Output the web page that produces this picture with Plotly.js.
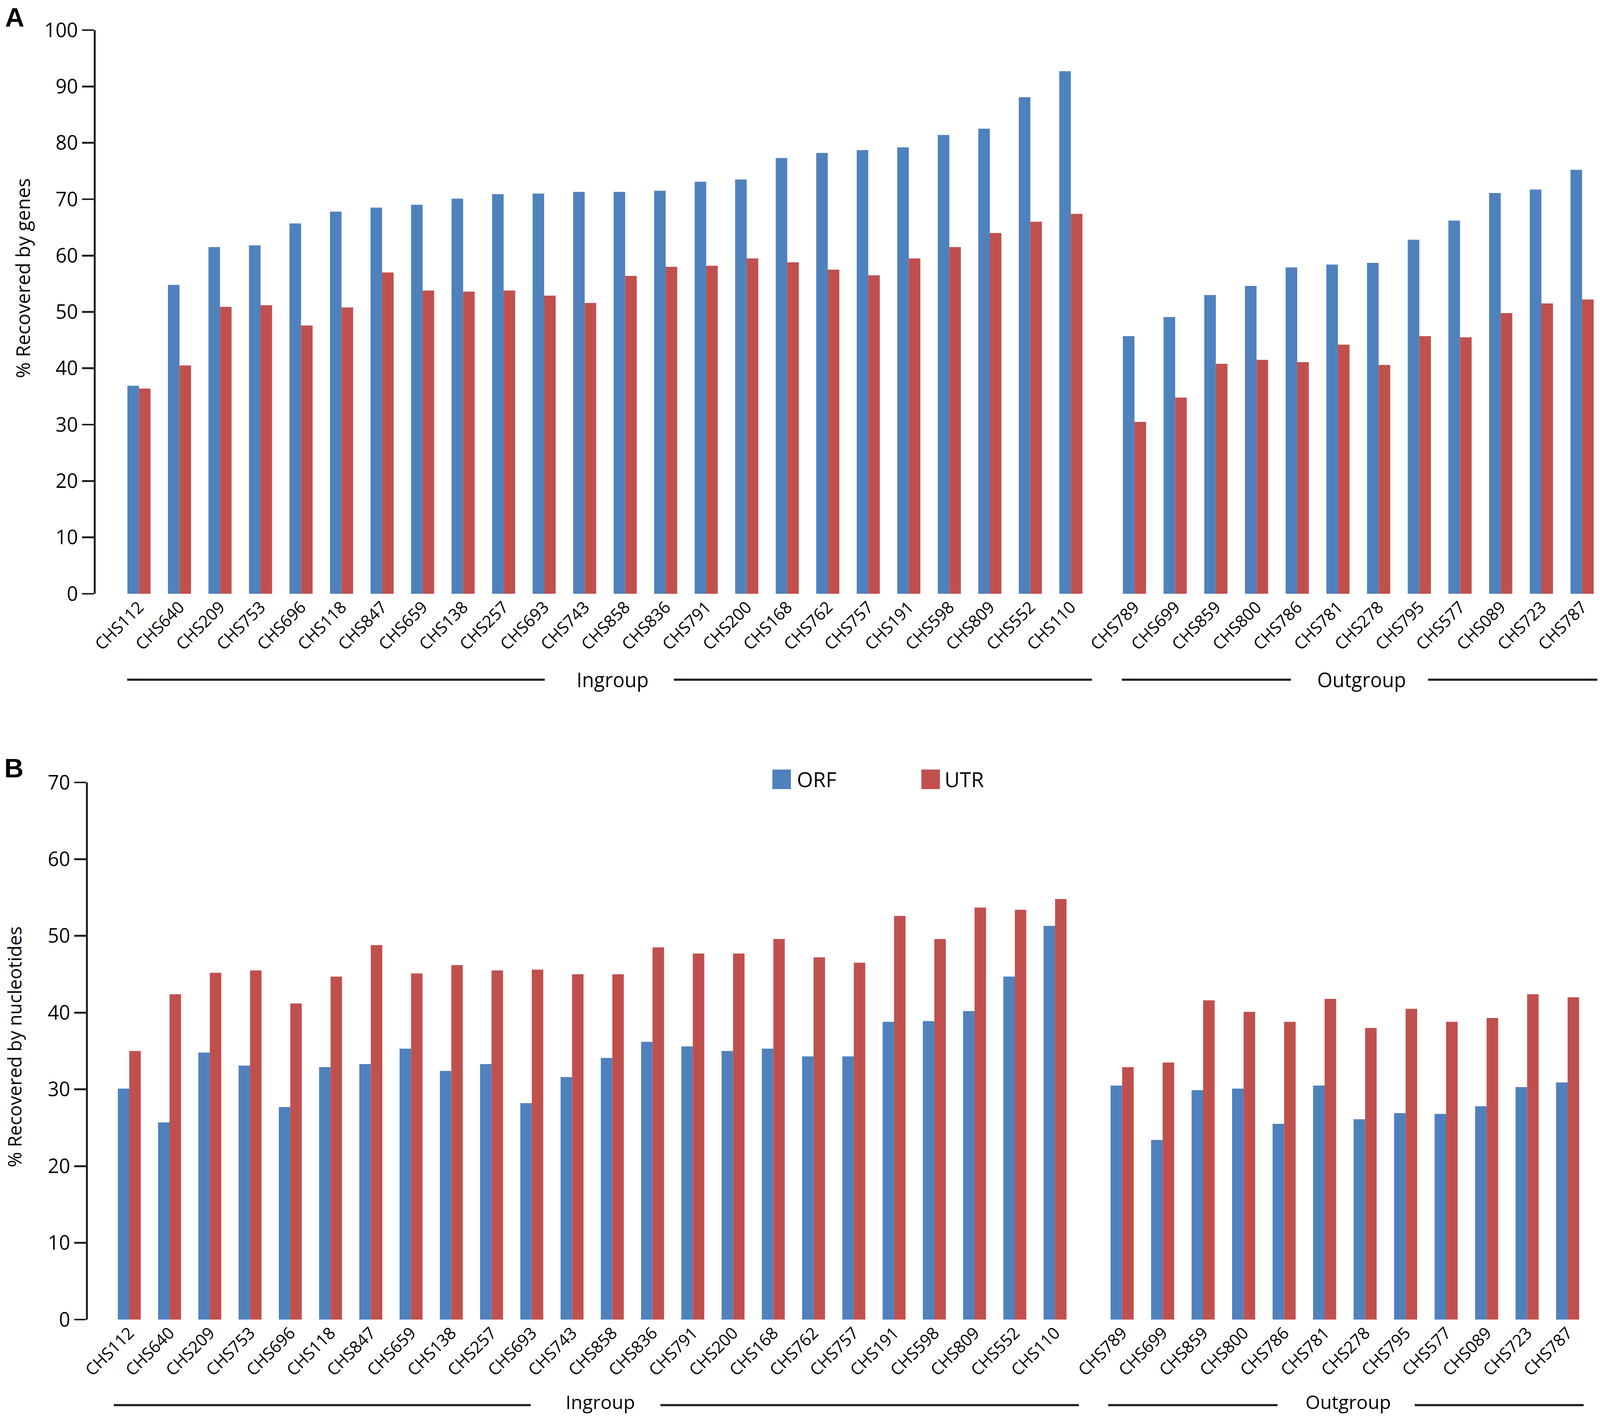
<!DOCTYPE html>
<html>
<head>
<meta charset="utf-8">
<script src="https://cdn.plot.ly/plotly-3.0.1.min.js"></script>
<style>
  html, body { margin: 0; padding: 0; background: #fff; overflow: hidden; }
  #myDiv { width: 100vw; height: 100vh; }
</style>
</head>
<body>
<div id="myDiv"></div>
<script>
// sample names
var ingroup = ["CHS112", "CHS640", "CHS209", "CHS753", "CHS696", "CHS118", "CHS847", "CHS659",
    "CHS138", "CHS257", "CHS693", "CHS743", "CHS858", "CHS836", "CHS791", "CHS200",
    "CHS168", "CHS762", "CHS757", "CHS191", "CHS598", "CHS809", "CHS552", "CHS110"];
var outgroup = ["CHS789", "CHS699", "CHS859", "CHS800", "CHS786", "CHS781", "CHS278", "CHS795",
    "CHS577", "CHS089", "CHS723", "CHS787"];

// A: % recovered by genes
var genesOrfIn = [36.9, 54.8, 61.5, 61.8, 65.7, 67.8, 68.5, 69.0, 70.1, 70.9, 71.0, 71.3,
    71.3, 71.5, 73.1, 73.5, 77.3, 78.2, 78.7, 79.2, 81.4, 82.5, 88.1, 92.7];
var genesUtrIn = [36.4, 40.5, 50.9, 51.2, 47.6, 50.8, 57.0, 53.8, 53.6, 53.8, 52.9, 51.6,
    56.4, 58.0, 58.2, 59.5, 58.8, 57.5, 56.5, 59.5, 61.5, 64.0, 66.0, 67.4];
var genesOrfOut = [45.7, 49.1, 53.0, 54.6, 57.9, 58.4, 58.7, 62.8, 66.2, 71.1, 71.7, 75.2];
var genesUtrOut = [30.5, 34.8, 40.8, 41.5, 41.1, 44.2, 40.6, 45.7, 45.5, 49.8, 51.5, 52.2];

// B: % recovered by nucleotides
var nucOrfIn = [30.1, 25.7, 34.8, 33.1, 27.7, 32.9, 33.3, 35.3, 32.4, 33.3, 28.2, 31.6,
    34.1, 36.2, 35.6, 35.0, 35.3, 34.3, 34.3, 38.8, 38.9, 40.2, 44.7, 51.3];
var nucUtrIn = [35.0, 42.4, 45.2, 45.5, 41.2, 44.7, 48.8, 45.1, 46.2, 45.5, 45.6, 45.0,
    45.0, 48.5, 47.7, 47.7, 49.6, 47.2, 46.5, 52.6, 49.6, 53.7, 53.4, 54.8];
var nucOrfOut = [30.5, 23.4, 29.9, 30.1, 25.5, 30.5, 26.1, 26.9, 26.8, 27.8, 30.3, 30.9];
var nucUtrOut = [32.9, 33.5, 41.6, 40.1, 38.8, 41.8, 38.0, 40.5, 38.8, 39.3, 42.4, 42.0];

var seriesNames = ["ORF", "UTR"];
var yTicksA = [0, 10, 20, 30, 40, 50, 60, 70, 80, 90, 100];
var yTicksB = [0, 10, 20, 30, 40, 50, 60, 70];

// the layout below is measured on a 4317 x 3630 sheet; scale to the real viewport
var REF_W = 4317, REF_H = 3630;
var W = window.innerWidth || REF_W;
var H = window.innerHeight || REF_H;
var S = Math.min(W / REF_W, H / REF_H);

var FONT = "Open Sans, Liberation Sans, sans-serif";
var INK = "#231f20";
var BLUE = "#4f81bd", RED = "#c0504d";

function px(x) { return x / REF_W; }
function py(y) { return 1 - y / REF_H; }
function sz(v) { return v * S; }

function bars(x, y, color, xa, ya, name) {
    return { type: "bar", x: x, y: y, name: name, xaxis: xa, yaxis: ya,
        marker: { color: color, line: { width: 0 } }, showlegend: false, hoverinfo: "x+y" };
}

var data = [
    bars(ingroup, genesOrfIn, BLUE, "x", "y", seriesNames[0]),
    bars(ingroup, genesUtrIn, RED, "x", "y", seriesNames[1]),
    bars(outgroup, genesOrfOut, BLUE, "x2", "y", seriesNames[0]),
    bars(outgroup, genesUtrOut, RED, "x2", "y", seriesNames[1]),
    bars(ingroup, nucOrfIn, BLUE, "x3", "y2", seriesNames[0]),
    bars(ingroup, nucUtrIn, RED, "x3", "y2", seriesNames[1]),
    bars(outgroup, nucOrfOut, BLUE, "x4", "y2", seriesNames[0]),
    bars(outgroup, nucUtrOut, RED, "x4", "y2", seriesNames[1])
];

function xAxis(domain, range, anchor) {
    return { type: "category", domain: domain, range: range, anchor: anchor,
        showline: false, showgrid: false, zeroline: false, ticks: "",
        tickangle: -45, ticklabelstandoff: sz(10), automargin: false,
        tickfont: { family: FONT, size: sz(45), color: "#000" } };
}

function yAxis(domain, range, ticks, anchor) {
    return { domain: domain, range: range, anchor: anchor, tickvals: ticks,
        showline: true, linecolor: INK, linewidth: sz(5), showgrid: false, zeroline: false,
        ticks: "outside", ticklen: sz(32), tickwidth: sz(5), tickcolor: INK,
        ticklabelstandoff: sz(22), automargin: false,
        tickfont: { family: FONT, size: sz(53), color: "#000" } };
}

function groupLine(x0, x1, y) {
    return { type: "line", xref: "paper", yref: "paper", x0: px(x0), x1: px(x1),
        y0: py(y), y1: py(y), line: { color: INK, width: sz(6) } };
}

function square(x0, x1, y0, y1, color) {
    return { type: "rect", xref: "paper", yref: "paper", x0: px(x0), x1: px(x1),
        y0: py(y1), y1: py(y0), fillcolor: color, line: { width: 0 } };
}

function label(text, x, y, size, opts) {
    var a = { text: text, xref: "paper", yref: "paper", x: px(x), y: py(y),
        showarrow: false, xanchor: "center", yanchor: "middle",
        font: { family: FONT, size: sz(size), color: "#000" } };
    for (var k in opts) { a[k] = opts[k]; }
    return a;
}

var bold = { family: "Liberation Sans, Arial, sans-serif", size: sz(72), color: "#000", weight: "bold" };

var layout = {
    width: W, height: H,
    margin: { l: 0, r: 0, t: 0, b: 0, pad: 0 },
    paper_bgcolor: "#fff", plot_bgcolor: "#fff",
    barmode: "group", bargap: 0.43, bargroupgap: 0,
    showlegend: false,
    xaxis: xAxis([px(258), px(2944)], [-1.07, 23.5], "y"),
    xaxis2: xAxis([px(3006), 1], [-0.5, 11.44], "y"),
    yaxis: yAxis([py(1520), py(77)], [0, 100], yTicksA, "x"),
    xaxis3: xAxis([px(237), px(2901)], [-1.03, 23.5], "y2"),
    xaxis4: xAxis([px(2973), 1], [-0.5, 11.8], "y2"),
    yaxis2: yAxis([py(3378), py(2003)], [0, 70], yTicksB, "x3"),
    shapes: [
        groupLine(343, 1470, 1740), groupLine(1818, 2946, 1740),
        groupLine(3027, 3483, 1740), groupLine(3853, 4310, 1740),
        groupLine(307, 1432, 3597), groupLine(1782, 2911, 3597),
        groupLine(2990, 3447, 3597), groupLine(3817, 4273, 3597),
        square(2084, 2134, 1970, 2020, BLUE),
        square(2486, 2536, 1970, 2020, RED)
    ],
    annotations: [
        label("A", 40, 44, 72, { font: bold }),
        label("B", 37, 1966, 72, { font: bold }),
        label("% Recovered by genes", 61, 712, 52, { textangle: -90 }),
        label("% Recovered by nucleotides", 38, 2680, 50, { textangle: -90 }),
        label("Ingroup", 1653, 1740, 53),
        label("Outgroup", 3674, 1740, 53),
        label("Ingroup", 1620, 3588, 51),
        label("Outgroup", 3638, 3588, 51),
        label(seriesNames[0], 2148, 1995, 56, { xanchor: "left" }),
        label(seriesNames[1], 2546, 1995, 56, { xanchor: "left" })
    ]
};

Plotly.newPlot("myDiv", data, layout, { displayModeBar: false, staticPlot: true });
</script>
</body>
</html>
